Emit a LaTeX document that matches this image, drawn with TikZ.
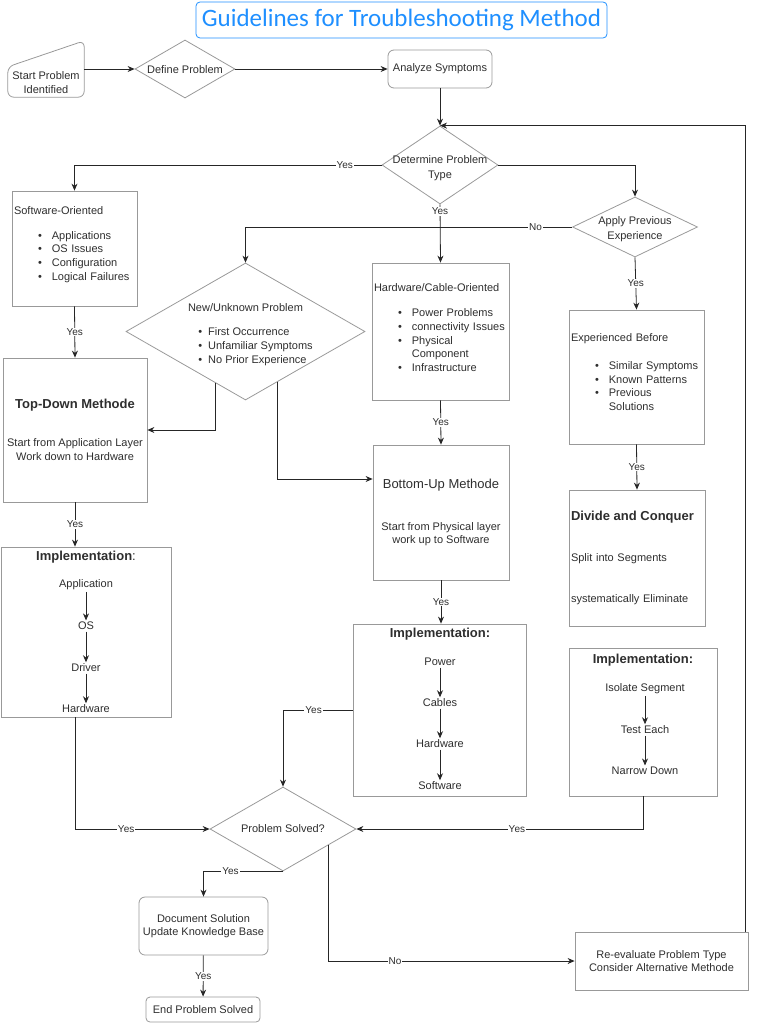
\documentclass[tikz,border=0pt]{standalone}
\usepackage{fontspec}
\setmainfont{Liberation Sans}
\newfontfamily\titlefont{Carlito}
\usetikzlibrary{arrows.meta,positioning,shapes.geometric,calc}
\definecolor{ttl}{rgb}{0.12,0.56,1.00}
\definecolor{edge}{rgb}{0.60,0.60,0.60}
\definecolor{txt}{rgb}{0.18,0.18,0.18}
\newcommand{\items}[1]{\begin{tabular}{@{\hspace{24pt}}c@{\hspace{10pt}}l@{}}#1\end{tabular}}
\newcommand{\dtxt}[2][-4pt]{\smash{\makebox[0pt]{\raisebox{#1}{\begin{tabular}{@{}c@{}}#2\end{tabular}}}}}

\begin{document}
\begin{tikzpicture}[x=1pt,y=-1pt,>={Stealth[length=7pt,width=6pt]},
  font=\fontsize{11}{13.7}\selectfont,text=txt,
  blk/.style={draw=edge,line width=0.8pt,inner sep=2pt,align=center},
  rblk/.style={blk,rounded corners=6pt},
  dec/.style={diamond,draw=edge,line width=0.8pt,inner sep=0pt},
  hdr/.style={font=\fontsize{13}{15}\selectfont\bfseries},
  stp/.style={inner sep=1.5pt},
  flow/.style={->,draw=black!85,line width=0.8pt},
  lab/.style={font=\fontsize{10}{12}\selectfont,fill=white,inner sep=1pt}]
\useasboundingbox (0,0) rectangle (756,1024);
\node[draw=ttl,line width=0.8pt,rounded corners=4pt,text=ttl,font=\titlefont\fontsize{25}{30}\selectfont,minimum width=411pt,minimum height=36pt] (title) at (401.5,20) {Guidelines for Troubleshooting Method};
% start of the flow
\node[align=center,minimum width=76pt,minimum height=56pt,inner sep=0pt] (start) at (46,69) {\rule{0pt}{35pt}Start Problem\\Identified};
\draw[draw=edge,line width=0.8pt,rounded corners=6pt] (start.south west) -- ([yshift=-26pt]start.north west) -- (start.north east) -- (start.south east) -- cycle;
\node[dec,minimum width=100pt,minimum height=58pt] (define) at (185,69) {\dtxt{Define Problem}};
\node[rblk,minimum width=104pt,minimum height=38pt] (analyze) at (440,69) {Analyze Symptoms};
\node[dec,minimum width=116pt,minimum height=78pt] (determine) at (440,165) {\dtxt[-6pt]{Determine Problem\\[2pt]Type}};
\node[dec,minimum width=125pt,minimum height=60pt] (apply) at (635,227) {\dtxt[-5pt]{Apply Previous\\[1pt]Experience}};
% problem types
\node[blk,align=left,text width=121pt,minimum height=115pt] (software) at (74.5,248.5) {Software-Oriented\\[14pt]\items{\textbullet&Applications\\\textbullet&OS Issues\\\textbullet&Configuration\\\textbullet&Logical Failures\\[6pt]}};
\node[dec,minimum width=239pt,minimum height=137pt] (newprob) at (245.5,331.5) {\dtxt[-6pt]{New/Unknown Problem\\[10pt]\begin{tabular}{@{\hspace{20pt}}c@{\hspace{6pt}}l@{}}\textbullet&First Occurrence\\\textbullet&Unfamiliar Symptoms\\\textbullet&No Prior Experience\end{tabular}}};
\node[blk,align=left,text width=133pt,minimum height=137pt] (hardware) at (440.5,331.5) {Hardware/Cable-Oriented\\[15pt]\items{\textbullet&Power Problems\\\textbullet&connectivity Issues\\\textbullet&Physical\\&Component\\\textbullet&Infrastructure\\[4pt]}};
\node[blk,align=left,text width=131pt,minimum height=134pt] (experienced) at (636.5,377) {Experienced Before\\[15pt]\items{\textbullet&Similar Symptoms\\\textbullet&Known Patterns\\\textbullet&Previous\\&Solutions\\[6pt]}};
% methods
\node[blk,minimum width=144pt,minimum height=144pt] (topdown) at (75,430) {{\fontsize{13}{15}\selectfont\bfseries Top-Down Methode}\\[24pt]Start from Application Layer\\Work down to Hardware};
\node[blk,minimum width=136pt,minimum height=135pt] (bottomup) at (441,512.5) {{\fontsize{13}{15}\selectfont Bottom-Up Methode}\\[28pt]Start from Physical layer\\work up to Software};
\node[blk,align=left,text width=132pt,minimum height=136pt] (divide) at (637,558) {{\fontsize{13}{15}\selectfont\bfseries Divide and Conquer}\\[27pt]Split into Segments\\[28pt]systematically Eliminate};
% implementation boxes
\node[blk,minimum width=170pt,minimum height=170pt] (impl1) at (86,632) {};
\node[hdr] (h1) at (86,557) {Implementation\mdseries:};
\node[stp] (a1) at (86,585) {Application};
\node[stp] (a2) at (86,626) {OS};
\node[stp] (a3) at (86,668) {Driver};
\node[stp] (a4) at (86,709) {Hardware};
\draw[flow] (a1) -- (a2); \draw[flow] (a2) -- (a3); \draw[flow] (a3) -- (a4);
\node[blk,minimum width=173pt,minimum height=172pt] (impl2) at (439.5,710) {};
\node[hdr] (h2) at (440,634) {Implementation:};
\node[stp] (b1) at (440,662) {Power};
\node[stp] (b2) at (440,703) {Cables};
\node[stp] (b3) at (440,744) {Hardware};
\node[stp] (b4) at (440,786) {Software};
\draw[flow] (b1) -- (b2); \draw[flow] (b2) -- (b3); \draw[flow] (b3) -- (b4);
\node[blk,minimum width=148pt,minimum height=148pt] (impl3) at (643,722) {};
\node[hdr] (h3) at (643,660) {Implementation:};
\node[stp] (c1) at (645,689) {Isolate Segment};
\node[stp] (c2) at (645,730) {Test Each};
\node[stp] (c3) at (645,771) {Narrow Down};
\draw[flow] (c1) -- (c2); \draw[flow] (c2) -- (c3);
% outcome
\node[dec,minimum width=146pt,minimum height=84pt] (solved) at (283,829) {\dtxt[-3pt]{Problem Solved?}};
\node[rblk,minimum width=129pt,minimum height=58pt,inner sep=1pt] (document) at (203.5,926) {Document Solution\\Update Knowledge Base};
\node[rblk,minimum width=114pt,minimum height=25pt,rounded corners=4pt] (finish) at (203,1009.5) {End Problem Solved};
\node[blk,minimum width=173pt,minimum height=58pt] (reeval) at (661.5,961) {Re-evaluate Problem Type\\Consider Alternative Methode};
% connectors
\draw[flow] (start.east) -- (define.west);
\draw[flow] (define) -- (analyze);
\draw[flow] (analyze) -- (determine);
\draw[flow] (determine.west) -| node[lab,pos=0.06]{Yes} (software.north);
\draw[flow] (determine.south) -- node[lab,pos=0.12]{Yes} (hardware.north);
\draw[flow] (determine.east) -| (apply.north);
\draw[flow] (apply.west) -| node[lab,pos=0.056]{No} (newprob.north);
\draw[flow] (apply.south) -- node[lab]{Yes} (experienced.north);
\draw[flow] (software.south) -- node[lab]{Yes} (topdown.north);
\draw[flow] ($(newprob.south)!0.25!(newprob.west)$) |- (topdown.east);
\draw[flow] ($(newprob.south)!0.27!(newprob.east)$) |- ([yshift=33.5pt]bottomup.west);
\draw[flow] (hardware.south) -- node[lab]{Yes} (bottomup.north);
\draw[flow] (experienced.south) -- node[lab]{Yes} (divide.north);
\draw[flow] (topdown.south) -- node[lab]{Yes} (topdown.south |- impl1.north);
\draw[flow] (bottomup.south) -- node[lab]{Yes} (bottomup.south |- impl2.north);
\draw[flow] (impl2.west) -| node[lab,pos=0.28]{Yes} (solved.north);
\draw[flow] (impl1.south -| topdown.south) |- node[lab,pos=0.69]{Yes} (solved.west);
\draw[flow] (impl3.south) |- node[lab,pos=0.72]{Yes} (solved.east);
\draw[flow] (solved.south) -| node[lab,pos=0.33]{Yes} (document.north);
\draw[flow] (document) -- node[lab]{Yes} (finish);
\draw[flow] ($(solved.south)!0.62!(solved.east)$) |- node[lab,pos=0.635]{No} (reeval.west);
\draw[flow] ([xshift=-3pt]reeval.north east) |- (determine.north);
\end{tikzpicture}
\end{document}
